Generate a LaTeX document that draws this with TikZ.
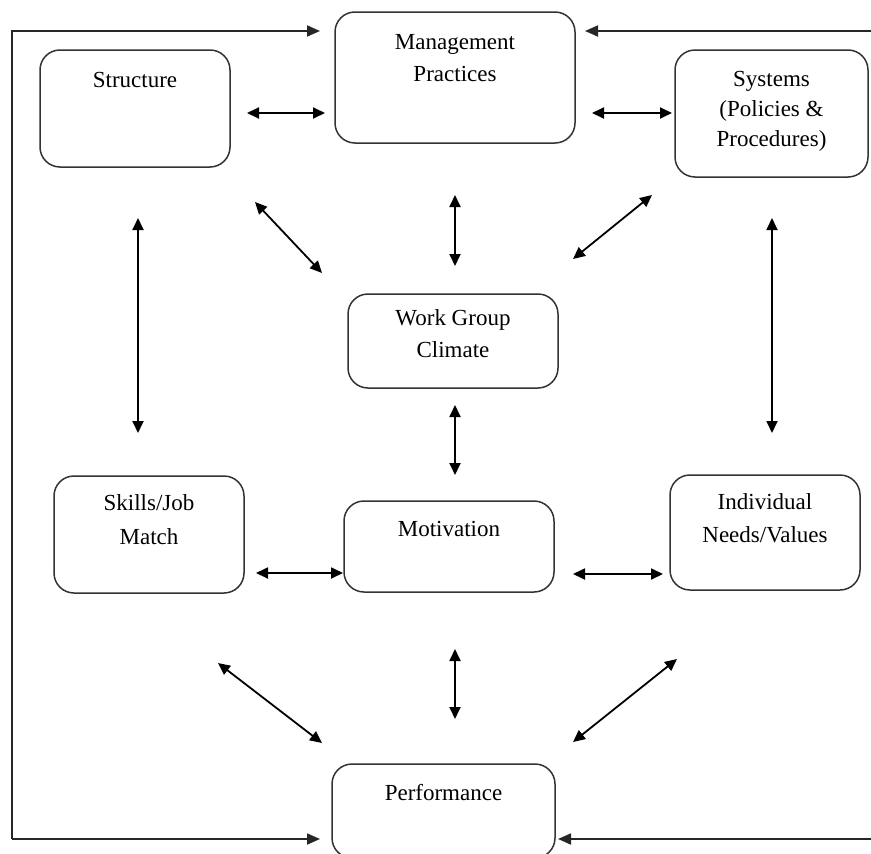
\documentclass[tikz,border=0pt]{standalone}
\usepackage{fontspec}
\setmainfont{Liberation Serif}
\usetikzlibrary{arrows.meta,calc}

\tikzset{
  box/.style={draw=black!80, line width=1.5pt, rounded corners=20pt, inner sep=0pt},
  lbl/.style={anchor=north, inner sep=0pt, align=center, font=\fontsize{23}{32}\selectfont},
  dbl/.style={line width=1.8pt, {Triangle[length=12pt,width=11pt]}-{Triangle[length=12pt,width=11pt]}},
  fb/.style={line width=1.8pt, black!85, -{Triangle[length=13pt,width=11pt]}}
}

\begin{document}
\begin{tikzpicture}[x=1pt, y=-1pt]
        \useasboundingbox (0,0) rectangle (871,854);

        % Boxes.
        \node[box, minimum width=190pt, minimum height=117pt, label={[lbl, yshift=-23pt]north:Structure}] (struct) at (135,108.5) {};
        \node[box, minimum width=240pt, minimum height=131pt, label={[lbl, yshift=-23pt]north:Management\\Practices}] (mgmt) at (455,77.5) {};
        \node[box, minimum width=193pt, minimum height=127pt, label={[lbl, yshift=-22pt, font=\fontsize{23}{30}\selectfont]north:Systems\\(Policies \&\\Procedures)}] (sys) at (771.5,113.5) {};
        \node[box, minimum width=210pt, minimum height=94pt, label={[lbl, yshift=-16pt]north:Work Group\\Climate}] (work) at (453,341) {};
        \node[box, minimum width=190pt, minimum height=117pt, label={[lbl, yshift=-19pt, font=\fontsize{23}{34}\selectfont]north:Skills/Job\\Match}] (skills) at (149,534.5) {};
        \node[box, minimum width=210pt, minimum height=91pt, label={[lbl, yshift=-21pt]north:Motivation}] (motiv) at (449,546.5) {};
        \node[box, minimum width=190pt, minimum height=115pt, label={[lbl, yshift=-19pt, font=\fontsize{23}{33}\selectfont]north:Individual\\Needs/Values}] (indiv) at (765,532.5) {};
        \node[box, minimum width=223pt, minimum height=94pt, label={[lbl, yshift=-21pt]north:Performance}] (perf) at (443.5,811) {};

        % Arrow ends.
        \coordinate (sm1) at (247,113);  \coordinate (sm2) at (325,113);
        \coordinate (ms1) at (592,113);  \coordinate (ms2) at (672,113);
        \coordinate (sw1) at (255,202);  \coordinate (sw2) at (322,273);
        \coordinate (mw1) at (455,195);  \coordinate (mw2) at (455,266);
        \coordinate (yw1) at (652,195);  \coordinate (yw2) at (573,259);
        \coordinate (sk1) at (138,218);  \coordinate (sk2) at (138,433);
        \coordinate (yi1) at (772,218);  \coordinate (yi2) at (772,433);
        \coordinate (wm1) at (455,405);  \coordinate (wm2) at (455,475);
        \coordinate (km1) at (256,573);  \coordinate (km2) at (343,573);
        \coordinate (mi1) at (573,574);  \coordinate (mi2) at (663,574);
        \coordinate (kp1) at (218,663);  \coordinate (kp2) at (322,743);
        \coordinate (mp1) at (455,649);  \coordinate (mp2) at (455,719);
        \coordinate (ip1) at (677,659);  \coordinate (ip2) at (573,742);

        % Double arrows.
        \foreach \a in {sm,ms,sw,mw,yw,sk,yi,wm,km,mi,kp,mp,ip}
            \draw[dbl] (\a1) -- (\a2);

        % Feedback loops.
        \coordinate (fbl1) at (320,31);  \coordinate (fbl2) at (320,839);
        \coordinate (fbr1) at (585,31);  \coordinate (fbr2) at (558,839);
        \draw[fb] (12,839) -- (12,31) -- (fbl1);
        \draw[fb] (12,839) -- (fbl2);
        \draw[fb] (875,31) -- (fbr1);
        \draw[fb] (875,839) -- (fbr2);

    \end{tikzpicture}
\end{document}
